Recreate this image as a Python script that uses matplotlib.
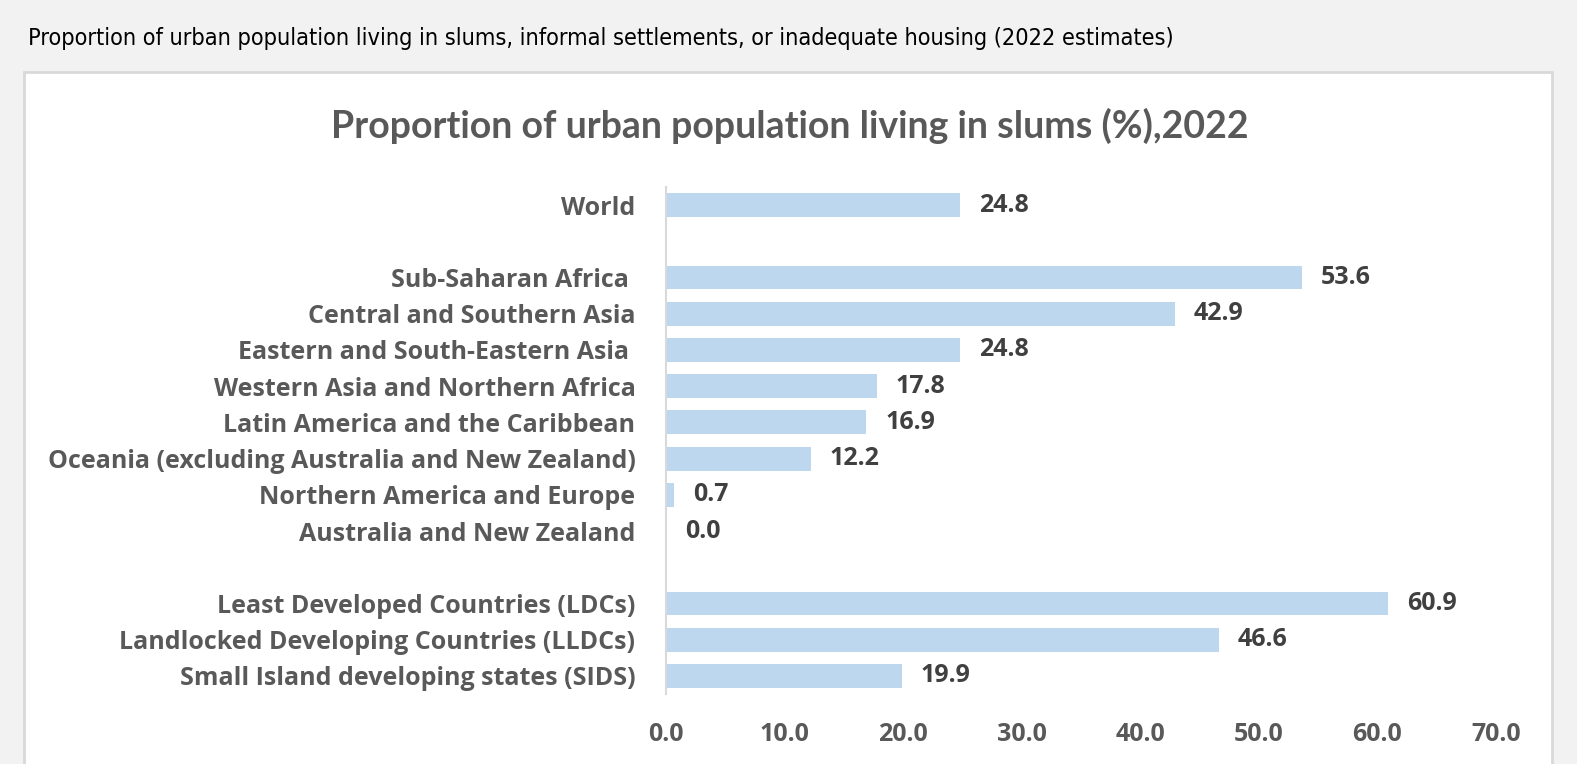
import matplotlib
matplotlib.use("Agg")
import matplotlib.pyplot as plt
from matplotlib.patches import Rectangle

# Data (blank entries are spacer rows)
regions = [
    "World",
    "",
    "Sub-Saharan Africa ",
    "Central and Southern Asia",
    "Eastern and South-Eastern Asia ",
    "Western Asia and Northern Africa",
    "Latin America and the Caribbean",
    "Oceania (excluding Australia and New Zealand)",
    "Northern America and Europe",
    "Australia and New Zealand",
    "",
    "Least Developed Countries (LDCs)",
    "Landlocked Developing Countries (LLDCs)",
    "Small Island developing states (SIDS)",
]
values = [24.8, None, 53.6, 42.9, 24.8, 17.8, 16.9, 12.2, 0.7, 0.0, None, 60.9, 46.6, 19.9]
xticks = [0, 10, 20, 30, 40, 50, 60, 70]

W, H = 1577, 764
fig = plt.figure(figsize=(W / 100, H / 100), dpi=100)
fig.patch.set_facecolor("#f2f2f2")

# white chart panel
fig.patches.append(Rectangle((24 / W, -0.05), (1552 - 24) / W, 1.05 - 72 / H,
                             transform=fig.transFigure, facecolor="white",
                             edgecolor="#d9d9d9", lw=2, zorder=-5))

fig.text(28 / W, 1 - 38 / H,
         "Proportion of urban population living in slums, informal settlements, or inadequate housing (2022 estimates)",
         family=["DejaVu Sans"], fontstretch="condensed", fontsize=16.8, color="black",
         ha="left", va="center")

fig.text(790 / W, 1 - 126 / H, "Proportion of urban population living in slums (%),2022",
         family=["Lato", "DejaVu Sans"], fontweight="bold", fontsize=27,
         color="#595959", ha="center", va="center")

ax = fig.add_axes([666 / W, (H - 694) / H, 830 / W, (694 - 187) / H])
ax.set_facecolor("none")

lab_font = ["Open Sans", "DejaVu Sans"]
pos = [i for i, v in enumerate(values) if v is not None]
vals = [v for v in values if v is not None]
ax.barh(pos, vals, height=0.66, color="#bdd7ee", zorder=2)
for p, v in zip(pos, vals):
    ax.annotate(f"{v:.1f}", (v, p), xytext=(13.5, 0), textcoords="offset points",
                va="center", ha="left", family=lab_font, fontweight="bold",
                fontsize=18, color="#404040")

ax.set_xlim(0, 70)
ax.set_ylim(len(regions) - 0.5, -0.5)
ax.set_yticks(range(len(regions)))
ax.set_yticklabels(regions, family=lab_font, fontweight="bold",
                   fontsize=18, color="#595959")
ax.set_xticks(xticks)
ax.set_xticklabels([f"{t:.1f}" for t in xticks], family=lab_font,
                   fontweight="bold", fontsize=18, color="#595959")
ax.tick_params(axis="both", length=0)
ax.tick_params(axis="y", pad=22)
ax.tick_params(axis="x", pad=20)
for s in ["top", "right", "bottom"]:
    ax.spines[s].set_visible(False)
ax.spines["left"].set_color("#d9d9d9")
ax.spines["left"].set_linewidth(1.5)

fig.savefig("out.png", dpi=100, facecolor=fig.get_facecolor())
